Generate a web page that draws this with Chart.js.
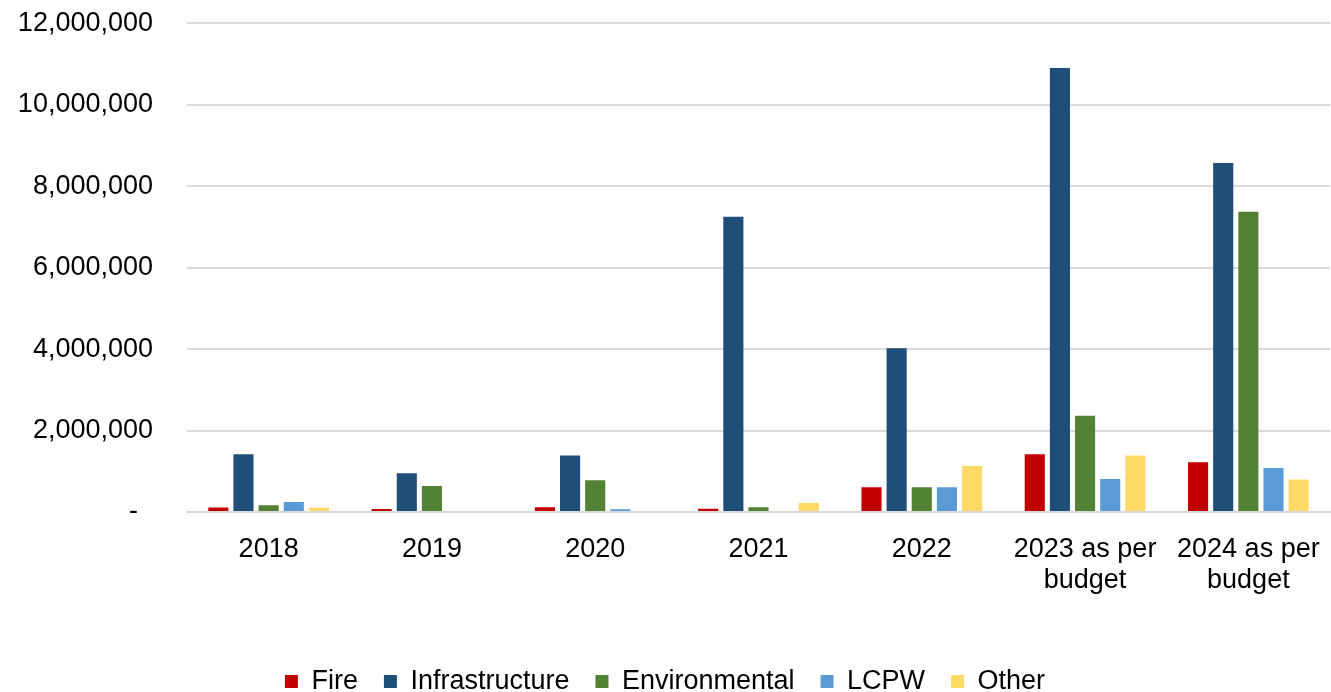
<!DOCTYPE html>
<html>
<head>
<meta charset="utf-8">
<script src="https://cdn.jsdelivr.net/npm/chart.js"></script>
<style>
  html, body { margin: 0; padding: 0; background: #ffffff; }
  #wrap { width: 1331px; height: 692px; }
</style>
</head>
<body>
<div id="wrap"><canvas id="chart"></canvas></div>
<script>
// categories (multi-line labels)
const years = [
  "2018", "2019", "2020", "2021", "2022",
  ["2023 as per", "budget"], ["2024 as per", "budget"]
];

// series values
const fire           = [110000, 75000, 115000, 80000, 610000, 1420000, 1220000];
const infrastructure = [1420000, 950000, 1390000, 7250000, 4020000, 10900000, 8570000];
const environmental  = [165000, 640000, 780000, 115000, 610000, 2360000, 7370000];
const lcpw           = [245000, 0, 70000, 0, 610000, 810000, 1080000];
const other          = [105000, 0, 0, 220000, 1130000, 1390000, 800000];

const seriesNames = ["Fire", "Infrastructure", "Environmental", "LCPW", "Other"];
const seriesColors = ["#C00000", "#1F4E79", "#548235", "#5B9BD5", "#FFD966"];
const seriesData = [fire, infrastructure, environmental, lcpw, other];

const FONT = "'Liberation Sans', Arial, sans-serif";
const EN = "\u2002"; // en space, used to push y labels away from the plot

new Chart(document.getElementById("chart").getContext("2d"), {
  type: "bar",
  data: {
    labels: years,
    datasets: seriesData.map((d, i) => ({
      label: seriesNames[i],
      data: d,
      backgroundColor: seriesColors[i],
      borderWidth: 0,
      categoryPercentage: 0.77,
      barPercentage: 0.8
    }))
  },
  options: {
    responsive: true,
    maintainAspectRatio: false,
    animation: false,
    layout: { padding: { left: 0, right: 1, top: 0, bottom: -13 } },
    plugins: {
      tooltip: { enabled: false },
      legend: {
        position: "bottom",
        labels: {
          color: "#000000",
          font: { family: FONT, size: 27, lineHeight: 1 },
          boxWidth: 13,
          boxHeight: 13,
          padding: 26
        }
      }
    },
    scales: {
      x: {
        grid: { display: false, drawTicks: false },
        border: { color: "#D9D9D9", width: 2 },
        ticks: {
          color: "#000000",
          font: { family: FONT, size: 27, lineHeight: 1.15 },
          padding: 22,
          maxRotation: 0,
          autoSkip: false
        },
        afterFit: (scale) => {
          scale.height = 130;
          // labels fit inside their category, no extra side padding needed
          scale.paddingLeft = 0;
          scale.paddingRight = 0;
        }
      },
      y: {
        min: 0,
        max: 12000000,
        grid: { color: "#D9D9D9", lineWidth: 2, drawTicks: false },
        border: { display: false },
        ticks: {
          stepSize: 2000000,
          color: "#000000",
          font: { family: FONT, size: 27 },
          padding: 7,
          callback: (v) => v === 0 ? "-  " + EN + EN : v.toLocaleString("en-US") + EN + EN
        },
        afterFit: (scale) => { scale.width = 187; }
      }
    }
  }
});
</script>
</body>
</html>
